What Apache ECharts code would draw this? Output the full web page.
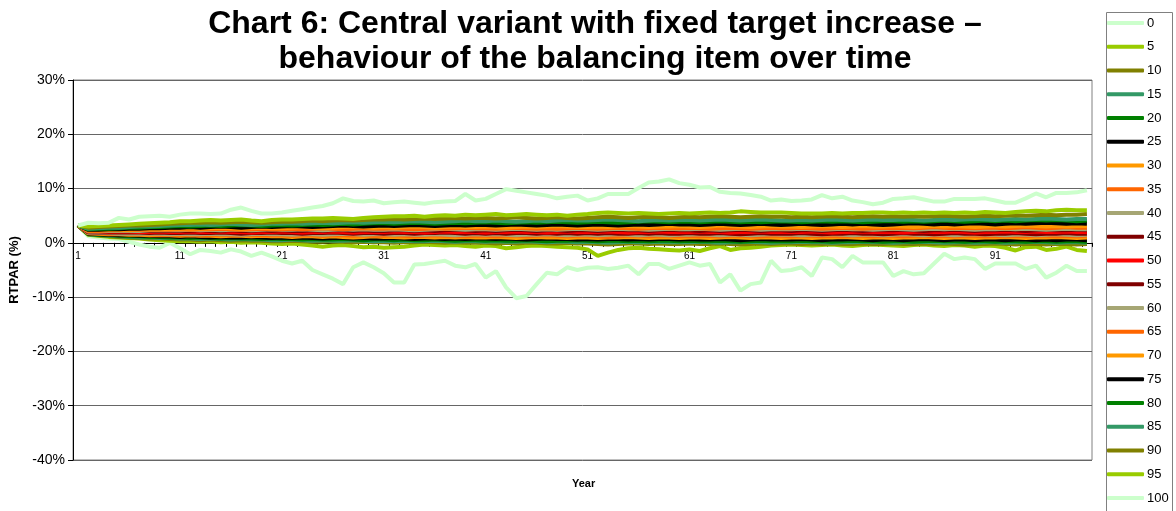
<!DOCTYPE html>
<html>
<head>
<meta charset="utf-8">
<script src="https://cdn.jsdelivr.net/npm/echarts@6/dist/echarts.min.js"></script>
<style>
  html, body { margin: 0; padding: 0; background: #fff; }
  #chart { width: 1176px; height: 511px; }
</style>
</head>
<body>
<div id="chart"></div>
<script>
const years = [
  "1","2","3","4","5","6","7","8","9","10","11","12","13","14","15","16","17","18","19","20",
  "21","22","23","24","25","26","27","28","29","30","31","32","33","34","35","36","37","38","39","40",
  "41","42","43","44","45","46","47","48","49","50","51","52","53","54","55","56","57","58","59","60",
  "61","62","63","64","65","66","67","68","69","70","71","72","73","74","75","76","77","78","79","80",
  "81","82","83","84","85","86","87","88","89","90","91","92","93","94","95","96","97","98","99","100"
];

const yTicks = [-40, -30, -20, -10, 0, 10, 20, 30];

const percentileNames = ["0","5","10","15","20","25","30","35","40","45","50","55","60","65","70","75","80","85","90","95","100"];

const percentileColors = [
  "#ccffcc","#99cc00","#808000","#339966","#008000","#000000","#ff9900","#ff6600","#a6a674","#800000",
  "#ff0000","#800000","#a6a674","#ff6600","#ff9900","#000000","#008000","#339966","#808000","#99cc00","#ccffcc"
];

// values in % per year
const p0 = [3.2,1.2,1.0,0.8,0.7,0.2,-0.3,-0.7,-0.9,0.0, -1.0,-2.1,-1.3,-1.5,-1.8,-1.2,-1.6,-2.4,-1.8,-2.5,
  -3.3,-3.8,-3.3,-5.0,-5.8,-6.6,-7.6,-4.5,-3.6,-4.5, -5.6,-7.3,-7.3,-4.0,-3.9,-3.6,-3.3,-4.2,-4.5,-3.9,
  -6.4,-5.2,-8.2,-10.2,-9.8,-7.6,-5.5,-5.8,-4.5,-5.0, -4.6,-4.5,-4.8,-4.6,-4.2,-5.8,-3.9,-3.9,-4.8,-4.2,
  -3.6,-4.2,-3.9,-7.3,-5.8,-8.8,-7.6,-7.3,-3.3,-5.2, -5.0,-4.5,-6.1,-2.7,-3.0,-4.5,-2.4,-3.6,-3.6,-3.6,
  -6.1,-5.2,-5.8,-5.6,-3.8,-2.0,-3.0,-2.7,-3.0,-4.8, -3.8,-3.8,-3.8,-4.8,-4.2,-6.4,-5.5,-4.2,-5.2,-5.2];
const p5 = [3.2,1.5,1.3,1.1,1.0,0.9,0.8,0.6,0.5,0.4, 0.3,0.3,0.2,0.3,0.1,0.2,0.0,0.1,0.0,-0.1,
  -0.2,-0.1,-0.3,-0.5,-0.7,-0.5,-0.4,-0.6,-0.8,-0.7, -0.9,-0.8,-0.7,-0.5,-0.3,-0.4,-0.5,-0.4,-0.6,-0.7,
  -0.5,-0.6,-1.0,-0.8,-0.6,-0.5,-0.6,-0.7,-0.8,-0.9, -1.2,-2.4,-1.8,-1.3,-1.0,-0.9,-1.1,-1.2,-1.3,-1.4,
  -1.2,-1.5,-1.0,-0.6,-1.3,-1.0,-0.9,-0.7,-0.5,-0.4, -0.3,-0.4,-0.5,-0.4,-0.3,-0.5,-0.6,-0.4,-0.3,-0.4,
  -0.5,-0.6,-0.4,-0.3,-0.5,-0.6,-0.4,-0.5,-0.7,-0.5, -0.6,-0.9,-1.4,-0.8,-0.7,-1.3,-1.1,-0.7,-1.3,-1.5];
const p10 = [3.2,1.55,1.4,1.25,1.1,1.0,0.9,0.8,0.8,0.7, 0.6,0.6,0.5,0.6,0.5,0.4,0.5,0.4,0.4,0.3,
  0.3,0.4,0.3,0.2,0.2,0.3,0.2,0.1,0.2,0.1, 0.1,0.0,0.1,0.1,0.2,0.1,0.0,0.1,0.0,0.0,
  0.0,-0.1,0.0,-0.1,0.0,0.0,-0.1,-0.1,0.0,-0.1, -0.1,-0.2,-0.3,-0.2,-0.1,-0.1,-0.2,-0.1,-0.2,-0.2,
  -0.1,-0.2,-0.2,-0.1,-0.2,-0.3,-0.2,-0.1,-0.2,-0.1, -0.1,-0.2,-0.1,-0.2,-0.1,-0.2,-0.2,-0.1,-0.2,-0.2,
  -0.1,-0.2,-0.2,-0.1,-0.2,-0.1,-0.2,-0.3,-0.2,-0.2, -0.1,-0.2,-0.3,-0.2,-0.2,-0.3,-0.2,-0.2,-0.3,-0.2];
const p15 = [3.2,1.6,1.45,1.3,1.2,1.1,1.0,1.0,0.9,0.9, 0.8,0.8,0.7,0.8,0.7,0.6,0.7,0.6,0.6,0.5,
  0.5,0.6,0.5,0.4,0.5,0.4,0.4,0.5,0.4,0.3, 0.4,0.3,0.4,0.3,0.3,0.4,0.3,0.2,0.3,0.3,
  0.2,0.3,0.2,0.2,0.3,0.2,0.1,0.2,0.2,0.1, 0.2,0.1,0.0,0.1,0.2,0.1,0.1,0.2,0.1,0.1,
  0.1,0.2,0.1,0.0,0.1,0.1,0.2,0.1,0.0,0.1, 0.1,0.2,0.1,0.1,0.0,0.1,0.1,0.2,0.1,0.1,
  0.0,0.1,0.1,0.2,0.1,0.0,0.1,0.1,0.0,0.1, 0.1,0.0,0.1,0.1,0.2,0.1,0.0,0.1,0.1,0.0];
const p20 = [3.2,1.65,1.5,1.4,1.3,1.2,1.2,1.1,1.1,1.0, 1.0,0.9,1.0,0.9,0.8,0.9,0.8,0.8,0.7,0.8,
  0.7,0.7,0.6,0.7,0.6,0.6,0.7,0.6,0.5,0.6, 0.6,0.5,0.6,0.5,0.5,0.6,0.5,0.4,0.5,0.5,
  0.4,0.5,0.4,0.4,0.5,0.4,0.3,0.4,0.4,0.5, 0.4,0.3,0.4,0.4,0.3,0.4,0.3,0.4,0.4,0.3,
  0.4,0.3,0.3,0.4,0.3,0.2,0.3,0.4,0.3,0.3, 0.3,0.4,0.3,0.3,0.2,0.3,0.4,0.3,0.3,0.2,
  0.3,0.3,0.2,0.3,0.4,0.3,0.3,0.2,0.3,0.3, 0.2,0.3,0.3,0.2,0.3,0.3,0.2,0.3,0.3,0.2];
const p25 = [3.2,1.7,1.6,1.5,1.4,1.4,1.3,1.3,1.2,1.2, 1.1,1.2,1.1,1.0,1.1,1.0,1.0,1.1,1.0,0.9,
  1.0,0.9,1.0,0.9,0.8,0.9,0.9,0.8,0.9,0.8, 0.8,0.9,0.8,0.7,0.8,0.8,0.7,0.8,0.7,0.8,
  0.8,0.7,0.8,0.7,0.6,0.7,0.8,0.7,0.7,0.6, 0.7,0.6,0.7,0.7,0.6,0.7,0.6,0.7,0.7,0.6,
  0.7,0.6,0.6,0.7,0.6,0.5,0.6,0.7,0.6,0.6, 0.6,0.7,0.6,0.5,0.6,0.6,0.7,0.6,0.5,0.6,
  0.6,0.5,0.6,0.7,0.6,0.5,0.6,0.6,0.5,0.6, 0.6,0.5,0.6,0.6,0.5,0.6,0.5,0.6,0.6,0.5];
const p30 = [3.2,1.75,1.7,1.6,1.6,1.5,1.5,1.4,1.4,1.4, 1.3,1.4,1.3,1.3,1.2,1.3,1.3,1.2,1.3,1.2,
  1.2,1.1,1.2,1.2,1.1,1.2,1.1,1.0,1.1,1.2, 1.1,1.1,1.0,1.1,1.1,1.0,1.1,1.0,1.1,1.0,
  1.0,1.1,1.0,0.9,1.0,1.1,1.0,1.0,0.9,1.0, 1.0,0.9,1.0,1.0,1.1,1.0,0.9,1.0,1.0,0.9,
  1.0,1.0,0.9,1.0,1.1,1.0,0.9,1.0,1.0,0.9, 1.0,1.0,0.9,1.0,1.0,1.1,1.0,0.9,1.0,1.0,
  0.9,1.0,1.0,1.1,1.0,0.9,1.0,1.0,0.9,1.0, 1.0,1.1,1.0,0.9,1.0,1.0,1.1,1.0,0.9,1.0];
const p35 = [3.2,1.8,1.75,1.7,1.7,1.6,1.6,1.6,1.5,1.5, 1.5,1.5,1.4,1.5,1.5,1.4,1.4,1.5,1.4,1.4,
  1.4,1.3,1.4,1.4,1.3,1.4,1.4,1.3,1.4,1.3, 1.3,1.4,1.3,1.2,1.3,1.4,1.3,1.3,1.2,1.3,
  1.3,1.2,1.3,1.3,1.2,1.3,1.4,1.3,1.2,1.3, 1.3,1.2,1.1,1.2,1.3,1.3,1.2,1.3,1.3,1.2,
  1.3,1.2,1.3,1.2,1.3,1.3,1.2,1.2,1.3,1.3, 1.2,1.3,1.3,1.2,1.3,1.2,1.3,1.3,1.2,1.3,
  1.3,1.2,1.3,1.3,1.2,1.3,1.2,1.3,1.3,1.2, 1.3,1.2,1.3,1.2,1.3,1.3,1.2,1.3,1.2,1.3];
const p40 = [3.2,1.85,1.8,1.8,1.7,1.7,1.7,1.7,1.7,1.6, 1.7,1.6,1.6,1.7,1.6,1.6,1.5,1.6,1.7,1.6,
  1.6,1.5,1.6,1.6,1.5,1.6,1.7,1.6,1.5,1.6, 1.6,1.5,1.6,1.5,1.5,1.6,1.5,1.4,1.5,1.6,
  1.5,1.6,1.5,1.4,1.5,1.5,1.6,1.5,1.4,1.5, 1.5,1.4,1.5,1.6,1.5,1.4,1.5,1.5,1.4,1.5,
  1.5,1.6,1.5,1.4,1.5,1.5,1.4,1.5,1.6,1.5, 1.5,1.4,1.5,1.5,1.6,1.5,1.4,1.5,1.5,1.4,
  1.5,1.6,1.5,1.4,1.5,1.5,1.4,1.5,1.6,1.5, 1.5,1.4,1.5,1.5,1.4,1.5,1.6,1.5,1.4,1.5];
const p45 = [3.2,1.95,1.9,1.9,1.9,1.9,1.9,1.8,1.9,1.8, 1.8,1.9,1.8,1.8,1.9,1.8,1.7,1.8,1.8,1.9,
  1.8,1.8,1.7,1.8,1.8,1.9,1.8,1.7,1.8,1.8, 1.7,1.8,1.8,1.7,1.8,1.8,1.9,1.8,1.7,1.8,
  1.7,1.8,1.7,1.8,1.8,1.7,1.8,1.7,1.8,1.7, 1.8,1.7,1.8,1.7,1.7,1.8,1.7,1.8,1.7,1.7,
  1.8,1.7,1.7,1.8,1.7,1.6,1.7,1.8,1.7,1.7, 1.7,1.8,1.7,1.6,1.7,1.7,1.8,1.7,1.7,1.6,
  1.7,1.8,1.7,1.7,1.6,1.7,1.8,1.7,1.7,1.6, 1.7,1.7,1.8,1.7,1.6,1.7,1.7,1.8,1.7,1.7];
const p50 = [3.2,2.0,2.0,2.0,2.0,2.0,2.0,2.0,2.1,2.0, 2.0,2.1,2.0,2.0,2.1,2.0,2.0,1.9,2.0,2.0,
  2.1,2.0,1.9,2.0,2.0,2.1,2.0,1.9,2.0,2.0, 2.0,2.1,2.0,2.0,1.9,2.0,2.1,2.0,2.0,2.0,
  1.9,2.0,2.0,2.1,2.0,2.0,1.9,2.0,2.1,2.0, 2.0,2.0,2.1,2.0,1.9,2.0,2.0,2.1,2.0,2.0,
  2.0,2.1,2.0,2.0,1.9,2.0,2.0,2.1,2.0,2.0, 2.0,2.0,2.1,2.0,1.9,2.0,2.0,2.1,2.0,2.0,
  2.0,1.9,2.0,2.1,2.0,2.0,2.1,2.0,1.9,2.0, 2.0,2.1,2.0,2.0,2.1,2.0,2.0,2.1,2.0,2.0];
const p55 = [3.2,2.05,2.1,2.1,2.1,2.1,2.2,2.2,2.2,2.2, 2.2,2.2,2.3,2.2,2.2,2.3,2.2,2.2,2.3,2.2,
  2.3,2.2,2.2,2.3,2.2,2.3,2.3,2.2,2.3,2.2, 2.2,2.3,2.3,2.2,2.3,2.2,2.3,2.4,2.3,2.2,
  2.3,2.2,2.3,2.4,2.3,2.2,2.3,2.3,2.2,2.3, 2.3,2.2,2.3,2.4,2.3,2.3,2.2,2.3,2.4,2.3,
  2.3,2.2,2.3,2.2,2.3,2.4,2.3,2.2,2.3,2.3, 2.2,2.3,2.3,2.2,2.3,2.4,2.3,2.2,2.3,2.3,
  2.3,2.4,2.3,2.2,2.3,2.3,2.4,2.3,2.2,2.3, 2.3,2.4,2.3,2.2,2.3,2.4,2.3,2.3,2.4,2.3];
const p60 = [3.2,2.1,2.1,2.2,2.2,2.2,2.2,2.3,2.3,2.3, 2.3,2.4,2.3,2.4,2.3,2.4,2.4,2.3,2.4,2.5,
  2.4,2.4,2.5,2.4,2.3,2.4,2.5,2.4,2.5,2.4, 2.4,2.5,2.4,2.3,2.4,2.5,2.6,2.5,2.4,2.5,
  2.5,2.4,2.5,2.6,2.5,2.4,2.5,2.4,2.5,2.6, 2.5,2.4,2.5,2.6,2.5,2.5,2.4,2.5,2.6,2.5,
  2.5,2.6,2.5,2.4,2.5,2.6,2.5,2.4,2.5,2.5, 2.5,2.6,2.5,2.4,2.5,2.6,2.5,2.5,2.4,2.5,
  2.6,2.5,2.4,2.5,2.6,2.5,2.6,2.5,2.4,2.5, 2.5,2.6,2.5,2.6,2.5,2.4,2.5,2.6,2.5,2.5];
const p65 = [3.2,2.2,2.2,2.3,2.3,2.3,2.4,2.4,2.4,2.4, 2.5,2.4,2.5,2.5,2.6,2.5,2.4,2.5,2.6,2.5,
  2.5,2.6,2.5,2.6,2.7,2.6,2.5,2.6,2.7,2.6, 2.6,2.7,2.6,2.5,2.6,2.7,2.6,2.7,2.8,2.7,
  2.7,2.6,2.7,2.8,2.7,2.6,2.7,2.6,2.7,2.8, 2.7,2.6,2.7,2.8,2.7,2.6,2.7,2.8,2.7,2.7,
  2.8,2.7,2.6,2.7,2.8,2.7,2.6,2.7,2.8,2.7, 2.7,2.8,2.7,2.6,2.7,2.8,2.7,2.6,2.7,2.8,
  2.7,2.8,2.7,2.8,2.9,2.8,2.7,2.8,2.7,2.8, 2.8,2.7,2.8,2.9,2.8,2.7,2.8,2.9,2.8,2.8];
const p70 = [3.2,2.3,2.3,2.4,2.4,2.4,2.5,2.5,2.5,2.6, 2.6,2.7,2.6,2.7,2.8,2.7,2.6,2.7,2.8,2.7,
  2.7,2.8,2.9,2.8,2.7,2.8,2.9,3.0,2.9,2.8, 2.9,2.8,2.9,3.0,2.9,2.8,2.9,3.0,2.9,2.9,
  3.0,2.9,2.8,2.9,3.0,2.9,3.0,3.1,3.0,2.9, 2.9,3.0,2.9,3.0,3.1,3.0,2.9,3.0,3.0,3.1,
  3.0,2.9,3.0,3.2,3.1,3.0,2.9,3.0,3.1,3.0, 3.0,2.9,3.0,3.1,3.0,2.9,3.0,3.1,3.0,3.0,
  3.1,3.0,2.9,3.0,3.1,3.0,3.1,3.0,2.9,3.0, 3.1,3.0,3.1,3.2,3.1,3.0,3.1,3.0,3.1,3.1];
const p75 = [3.2,2.4,2.4,2.5,2.5,2.6,2.6,2.7,2.7,2.8, 2.8,2.9,2.8,2.9,3.0,2.9,2.8,2.9,3.0,2.9,
  3.0,3.1,3.0,2.9,3.0,3.1,3.2,3.1,3.0,3.1, 3.2,3.1,3.2,3.3,3.2,3.1,3.2,3.3,3.2,3.3,
  3.3,3.2,3.3,3.4,3.3,3.2,3.3,3.4,3.3,3.2, 3.3,3.4,3.3,3.2,3.3,3.4,3.3,3.4,3.5,3.4,
  3.4,3.3,3.4,3.5,3.4,3.3,3.4,3.5,3.4,3.3, 3.4,3.5,3.4,3.3,3.4,3.5,3.4,3.5,3.4,3.3,
  3.4,3.5,3.6,3.5,3.4,3.5,3.4,3.5,3.6,3.5, 3.4,3.5,3.6,3.5,3.6,3.7,3.6,3.5,3.6,3.5];
const p80 = [3.2,2.5,2.6,2.6,2.7,2.8,2.8,2.9,2.9,3.0, 3.1,3.0,3.1,3.2,3.1,3.2,3.3,3.2,3.1,3.2,
  3.3,3.2,3.3,3.4,3.3,3.4,3.5,3.4,3.5,3.6, 3.6,3.5,3.6,3.7,3.6,3.5,3.6,3.7,3.6,3.7,
  3.8,3.7,3.6,3.7,3.8,3.7,3.8,3.9,3.8,3.7, 3.8,3.9,3.8,3.7,3.8,3.9,4.0,3.9,3.8,3.9,
  3.9,3.8,3.9,4.0,3.9,3.8,3.9,3.8,3.9,4.0, 3.9,3.8,3.9,4.0,3.9,4.0,3.9,3.8,3.9,4.0,
  4.0,3.9,4.0,3.9,4.0,4.1,4.0,3.9,4.0,4.1, 4.0,4.1,4.0,4.1,4.2,4.1,4.2,4.1,4.0,4.1];
const p85 = [3.2,2.6,2.7,2.8,2.8,2.9,3.0,3.0,3.1,3.2, 3.3,3.3,3.4,3.3,3.4,3.5,3.4,3.3,3.4,3.5,
  3.5,3.6,3.5,3.6,3.7,3.6,3.7,3.8,3.7,3.8, 3.9,3.8,3.9,4.0,3.9,3.8,3.9,4.0,4.1,4.0,
  4.0,4.1,4.0,3.9,4.0,4.1,4.0,4.1,4.2,4.1, 4.1,4.2,4.3,4.2,4.1,4.0,4.1,4.2,4.1,4.2,
  4.2,4.1,4.2,4.3,4.2,4.1,4.2,4.3,4.2,4.1, 4.1,4.2,4.1,4.2,4.3,4.2,4.1,4.2,4.3,4.2,
  4.2,4.3,4.2,4.1,4.2,4.3,4.2,4.3,4.4,4.3, 4.2,4.3,4.4,4.3,4.4,4.5,4.4,4.3,4.4,4.4];
const p90 = [3.2,2.8,2.9,3.0,3.1,3.2,3.2,3.3,3.4,3.5, 3.6,3.7,3.7,3.8,3.7,3.8,3.9,3.8,3.7,3.8,
  3.9,3.9,4.0,4.1,4.0,4.1,4.2,4.1,4.2,4.3, 4.3,4.4,4.3,4.4,4.5,4.4,4.5,4.6,4.5,4.6,
  4.6,4.5,4.6,4.7,4.6,4.5,4.6,4.7,4.6,4.5, 4.6,4.7,4.8,4.7,4.6,4.7,4.8,4.7,4.6,4.7,
  4.8,4.7,4.8,4.9,4.8,4.7,4.8,4.9,4.8,4.8, 4.7,4.8,4.7,4.8,4.9,4.8,4.7,4.8,4.9,4.8,
  4.9,4.8,4.9,4.8,4.9,5.0,4.9,4.8,4.9,5.0, 4.9,5.0,5.1,5.0,5.1,5.2,5.1,5.2,5.2,5.3];
const p95 = [3.2,3.0,3.1,3.2,3.3,3.4,3.5,3.6,3.7,3.8, 4.0,4.0,4.1,4.2,4.1,4.2,4.3,4.1,4.0,4.2,
  4.3,4.3,4.4,4.5,4.5,4.6,4.5,4.4,4.6,4.7, 4.8,4.9,4.9,5.0,4.8,5.0,5.1,5.0,5.2,5.1,
  5.2,5.3,5.1,5.2,5.3,5.2,5.1,5.2,5.0,5.2, 5.3,5.5,5.6,5.5,5.4,5.5,5.4,5.3,5.4,5.5,
  5.4,5.5,5.6,5.5,5.6,5.8,5.7,5.6,5.6,5.6, 5.5,5.4,5.4,5.4,5.5,5.4,5.5,5.5,5.6,5.6,
  5.5,5.6,5.5,5.6,5.5,5.6,5.5,5.6,5.5,5.7, 5.6,5.5,5.7,5.8,5.9,5.8,6.0,6.1,6.0,6.0];
const p100 = [3.2,3.7,3.6,3.7,4.6,4.3,4.8,4.9,5.0,4.8, 5.2,5.4,5.4,5.3,5.4,6.1,6.5,5.9,5.4,5.4,
  5.6,5.9,6.2,6.5,6.8,7.3,8.2,7.7,7.6,7.8, 7.3,7.5,7.6,7.4,7.2,7.5,7.6,7.7,9.0,7.8,
  8.1,9.0,9.9,9.6,9.3,9.0,8.7,8.2,8.5,8.7, 7.8,8.2,9.0,9.0,9.0,10.1,11.1,11.3,11.7,11.0,
  10.7,10.2,10.3,9.4,9.2,9.1,8.8,8.5,7.8,8.0, 7.7,7.8,8.0,8.8,8.2,8.5,7.8,7.5,7.1,7.4,
  8.1,8.2,8.4,8.0,7.6,7.6,8.1,8.1,8.1,8.2, 7.8,7.4,7.4,8.2,9.1,8.4,9.2,9.2,9.3,9.7];

const percentileData = [p0, p5, p10, p15, p20, p25, p30, p35, p40, p45, p50, p55, p60, p65, p70, p75, p80, p85, p90, p95, p100];

const chart = echarts.init(document.getElementById("chart"));

const series = percentileNames.map((name, i) => ({
  name: name,
  type: "line",
  data: percentileData[i],
  showSymbol: false,
  symbol: "none",
  lineStyle: { color: percentileColors[i], width: 4 },
  itemStyle: { color: percentileColors[i] },
  animation: false,
}));

// plot area: 73..1092 x 80..460, the 0% line sits at 3/7 of the height
const gridTop = 80;
const gridBottomPx = 460;
const zeroOffset = -(gridBottomPx - gridTop) * (0 - yTicks[0]) / (yTicks[yTicks.length - 1] - yTicks[0]);

chart.setOption({
  animation: false,
  textStyle: { fontFamily: "Liberation Sans, Arial, sans-serif" },
  title: {
    text: "Chart 6: Central variant with fixed target increase –\nbehaviour of the balancing item over time",
    left: 590,
    textAlign: "center",
    top: 2,
    textStyle: {
      fontSize: 32,
      fontWeight: "bold",
      color: "#000",
      lineHeight: 35,
      fontFamily: "Liberation Sans, Arial, sans-serif",
    },
  },
  legend: {
    orient: "vertical",
    left: 1107,
    top: 16,
    itemWidth: 37,
    itemHeight: 4,
    itemGap: 9.75,
    icon: "roundRect",
    selectedMode: false,
    padding: 0,
    data: percentileNames,
    textStyle: { fontSize: 13, color: "#000", lineHeight: 14, padding: [0, 0, 0, -2] },
  },
  graphic: [
    {
      type: "rect",
      shape: { x: 1106.5, y: 12.5, width: 66, height: 510 },
      style: { fill: "none", stroke: "#808080", lineWidth: 1 },
      silent: true,
    },
    {
      type: "text",
      left: 572,
      top: 478,
      style: { text: "Year", font: "bold 11px Liberation Sans, Arial, sans-serif", fill: "#000" },
    },
  ],
  grid: {
    left: 73,
    right: 84,
    top: gridTop,
    bottom: 511 - gridBottomPx,
    show: true,
    borderColor: "#808080",
    borderWidth: 1,
    backgroundColor: "#fff",
  },
  xAxis: {
    type: "category",
    data: years,
    boundaryGap: true,
    offset: zeroOffset,
    axisLine: { onZero: false, lineStyle: { color: "#000", width: 1 } },
    axisTick: { show: true, interval: 0, length: 4, lineStyle: { color: "#000" } },
    axisLabel: { interval: 9, fontSize: 10, color: "#000", margin: 8 },
    splitLine: { show: false },
  },
  yAxis: {
    type: "value",
    min: yTicks[0],
    max: yTicks[yTicks.length - 1],
    interval: 10,
    name: "RTPAR (%)",
    nameLocation: "middle",
    nameGap: 52,
    nameTextStyle: { fontSize: 13, fontWeight: "bold", color: "#000" },
    axisLine: { show: true, lineStyle: { color: "#000", width: 1 } },
    axisTick: { show: true, length: 5, lineStyle: { color: "#000" } },
    axisLabel: { fontSize: 14, color: "#000", margin: 8, formatter: (v) => v + "%" },
    splitLine: { show: true, lineStyle: { color: "#666", width: 1 } },
  },
  series: series,
});
</script>
</body>
</html>
